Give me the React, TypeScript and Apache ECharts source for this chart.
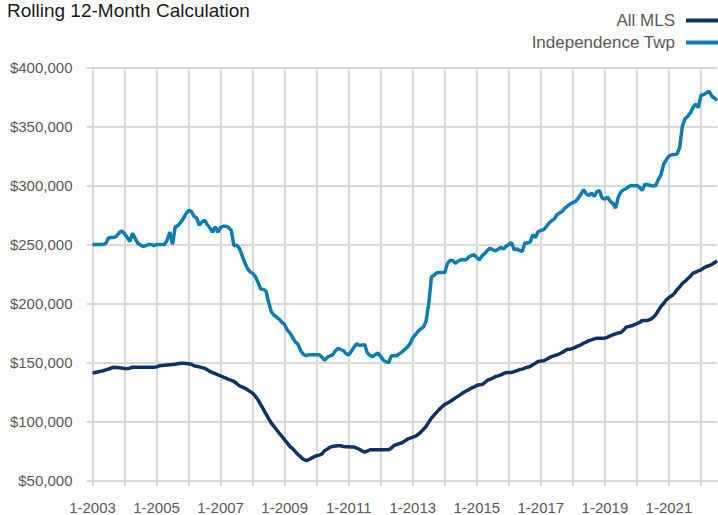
import React, { useEffect, useRef } from "react";
import * as echarts from "echarts";

const titleText = "Rolling 12-Month Calculation";
const seriesNames = ["All MLS", "Independence Twp"];
const startYear = 2003;
const monthCount = 235;
const yTicks = [50000, 100000, 150000, 200000, 250000, 300000, 350000, 400000];

// All MLS, thousands of dollars, monthly from 1-2003
const allMLS = [
  141, 141.5, 142, 142.5, 143, 143.8, 144.5, 145.3, 146, 145.8, 145.5, 145.3,
  145, 144.8, 145.2, 146, 146, 146, 146, 146, 146, 146, 146, 146,
  146.3, 147.2, 147.4, 147.6, 147.8, 148, 148.3, 148.6, 149, 149.4, 149.3, 149.1,
  148.9, 148.5, 147.2, 146.8, 146.3, 145.6, 145.2, 143.8, 142.4, 141.5, 140.5, 139.6,
  138.6, 137.6, 136.7, 135.8, 134.8, 133.9, 132.2, 130.3, 129.3, 128.3, 127, 125.5,
  124, 121.5, 118.4, 114.5, 110.5, 106.5, 102.5, 98.6, 95.8, 93, 90, 87.3,
  84.5, 81.7, 78.8, 77, 74.5, 72, 70, 68, 67, 67.5, 68.9, 70,
  71, 71.5, 72.5, 75.4, 76.5, 78.3, 78.8, 79.2, 79.4, 79.4, 78.8, 78.6,
  78.5, 78.3, 78.3, 77.5, 76.5, 75, 74, 75, 76, 76, 76, 76,
  76, 76, 76, 76, 77.5, 79.7, 80.5, 81.3, 82, 83.5, 85, 85.9,
  86.8, 87.5, 89, 91, 93.5, 95.8, 99.5, 102.8, 105.5, 108, 110.5, 112.5,
  114.5, 115.6, 117, 118.5, 120, 121.5, 123, 124.6, 125.8, 127, 128.3, 129.3,
  130.5, 131.1, 131.3, 133, 135, 135.8, 136.8, 138, 138.7, 139.5, 140.5, 141.5,
  141.5, 141.5, 142.3, 143, 144, 144.4, 145.2, 146, 146.6, 148, 149.5, 150.9,
  151.2, 151.4, 152.5, 153.8, 155, 155.7, 156.5, 157.4, 158.5, 160, 161.3, 161.3,
  162, 163, 164.1, 165, 166.4, 167.3, 168.5, 169.2, 170, 170.6, 170.6, 170.6,
  170.6, 171.5, 172.5, 173.5, 174.3, 175, 175.4, 177.5, 180, 180.5, 181.1, 182,
  183, 183.9, 185.6, 185.6, 185.6, 186.5, 188, 190.4, 194, 197.5, 200, 203.1,
  205, 206.5, 208.5, 211.6, 214, 217, 218.7, 221, 223, 225.7, 226.5, 227.7,
  228.5, 230, 231.4, 232, 233, 234.5, 236.2,
];

// Independence Twp, thousands of dollars, monthly from 1-2003
const independenceTwp = [
  250, 250, 250, 250, 250, 251, 255.5, 256, 256, 257, 260, 261.6,
  259, 256, 252.5, 259.6, 255, 251, 249.5, 248.3, 249, 250, 250, 249,
  250, 250, 250, 250, 254, 260.5, 250, 265, 266, 268.5, 272, 276,
  279, 278, 274, 272.5, 266.5, 269, 270.5, 267, 264, 260.5, 265, 260.5,
  264.5, 265.4, 265.4, 264.5, 262, 249, 249.5, 247, 241, 235, 230, 227,
  225.5, 223, 218, 212.5, 212, 210.5, 201, 193, 190, 188.5, 186.5, 184,
  182, 177.5, 175, 171, 167.5, 165.5, 160, 157, 155.7, 156.5, 156.5, 156.5,
  156.5, 156.5, 154.5, 151.7, 154.5, 155.5, 156.5, 160, 162, 161, 160, 157.5,
  156.5, 159.5, 163, 165.8, 164.4, 164.8, 165, 158, 156, 155, 156.5, 158,
  155, 152, 150.5, 150, 155.7, 155.7, 155.7, 157.5, 159, 161, 163, 166,
  171, 173.5, 176.5, 178.5, 180, 185, 200, 222.5, 224, 226, 226.3, 226.3,
  226.3, 234, 236.5, 236.5, 234, 236, 237, 237, 237, 239.5, 240.5, 241.3,
  239, 237, 240.4, 242.5, 245, 246.9, 245.5, 244.7, 246, 247.5, 246.1, 248.5,
  250, 251.7, 245.5, 246.3, 245, 244.1, 251, 251.5, 252, 258.2, 256, 261,
  262, 262.4, 265, 268, 270, 271.5, 275.2, 276.6, 278, 280.8, 282.5, 284.5,
  285.5, 286.5, 289.3, 292.5, 296.4, 293, 291.5, 293.5, 290.7, 294.9, 295.5, 289.3,
  288.5, 290.2, 286.5, 285, 280.8, 290, 294.5, 296.4, 297.5, 299.2, 300, 299.7,
  300, 298.3, 296, 301, 300.6, 300, 299.5, 300, 305, 309, 318, 321.8,
  325, 326, 326.3, 326.6, 332, 350, 356.5, 358.5, 361.3, 366, 369, 366,
  376.5, 377, 378.5, 380, 376, 374, 372,
];

const categories: string[] = [];
for (let i = 0; i < monthCount; i++) {
  const y = startYear + Math.floor(i / 12);
  const m = (i % 12) + 1;
  categories.push(`${m}-${y}`);
}

const NAVY = "#0C3266";
const BLUE = "#0B7DB1";
const GRID = "#d9d9d9";
const LABEL = "#595959";
const FONT = "'Liberation Sans', Arial, sans-serif";

export default function App() {
  const ref = useRef<HTMLDivElement>(null);
  useEffect(() => {
    if (!ref.current) return;
    const chart = echarts.init(ref.current, undefined, { renderer: "svg" });
    chart.setOption({
      animation: false,
      backgroundColor: "#ffffff",
      title: {
        text: titleText,
        left: 7,
        top: 1,
        padding: 0,
        textStyle: { fontFamily: FONT, fontSize: 19, fontWeight: "normal", color: "#1a1a1a" },
      },
      legend: {
        orient: "vertical",
        right: 0,
        top: 12,
        padding: 0,
        itemGap: 5,
        align: "right",
        icon: "rect",
        itemWidth: 32,
        itemHeight: 4,
        data: seriesNames,
        textStyle: { fontFamily: FONT, fontSize: 17, color: LABEL, padding: [0, 6, 0, 0] },
      },
      grid: {
        left: 92.5,
        right: 1,
        top: 67.5,
        bottom: 34.5,
        containLabel: false,
        outerBoundsMode: "none",
      },
      xAxis: {
        type: "category",
        data: categories,
        boundaryGap: false,
        axisLine: { show: true, lineStyle: { color: GRID, width: 2 } },
        axisTick: { show: true, interval: 11, length: 6, lineStyle: { color: GRID, width: 2 } },
        axisLabel: {
          interval: 23,
          margin: 19,
          color: LABEL,
          fontFamily: FONT,
          fontSize: 15,
        },
        splitLine: { show: true, interval: 11, lineStyle: { color: GRID, width: 2 } },
      },
      yAxis: {
        type: "value",
        min: yTicks[0],
        max: yTicks[yTicks.length - 1],
        interval: 50000,
        axisLine: { show: true, lineStyle: { color: GRID, width: 2 } },
        axisTick: { show: true, length: 6, lineStyle: { color: GRID, width: 2 } },
        axisLabel: {
          margin: 20,
          color: LABEL,
          fontFamily: FONT,
          fontSize: 15,
          formatter: (v: number) => "$" + v.toLocaleString("en-US"),
        },
        splitLine: { show: true, lineStyle: { color: GRID, width: 2 } },
      },
      series: [
        {
          name: seriesNames[0],
          type: "line",
          data: allMLS.map((v) => v * 1000),
          showSymbol: false,
          symbol: "none",
          lineStyle: { color: NAVY, width: 3.5 },
          itemStyle: { color: NAVY },
          z: 3,
        },
        {
          name: seriesNames[1],
          type: "line",
          data: independenceTwp.map((v) => v * 1000),
          showSymbol: false,
          symbol: "none",
          lineStyle: { color: BLUE, width: 3.5 },
          itemStyle: { color: BLUE },
          z: 2,
        },
      ],
    });
    return () => chart.dispose();
  }, []);
  return (
    <div
      ref={ref}
      style={{ position: "absolute", left: 0, top: 0, width: 718, height: 515 }}
    />
  );
}
